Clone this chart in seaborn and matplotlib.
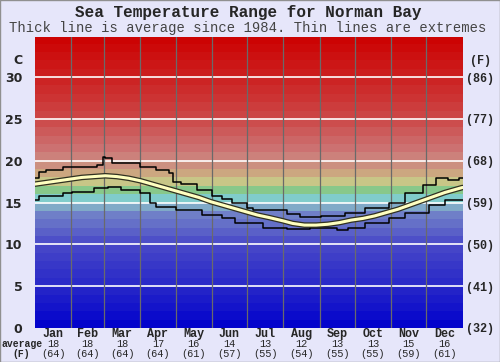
import matplotlib
matplotlib.use("Agg")
import matplotlib.pyplot as plt
import matplotlib.patheffects as pe
from matplotlib.colors import LinearSegmentedColormap
import seaborn as sns

# month labels and the monthly average row printed under the chart
months = ["Jan", "Feb", "Mar", "Apr", "May", "Jun", "Jul", "Aug", "Sep", "Oct", "Nov", "Dec"]
month_avg_c = [18, 18, 18, 17, 16, 14, 13, 12, 13, 13, 15, 16]
month_avg_f = [64, 64, 64, 64, 61, 57, 55, 54, 55, 55, 59, 61]
month_starts = [0, 31, 59, 90, 120, 151, 181, 212, 243, 273, 304, 334, 365]

# average since 1984 (day of year, deg C)
avg_days = [0, 10, 20, 30, 40, 50, 60, 70, 80, 90, 100, 110, 120, 130, 140, 150,
            160, 170, 180, 190, 200, 212, 220, 230, 240, 250, 260, 270, 280, 290,
            300, 310, 320, 330, 340, 350, 360, 365]
avg_temp = [17.2, 17.4, 17.6, 17.8, 18.0, 18.1, 18.2, 18.1, 17.9, 17.6, 17.2, 16.8,
            16.4, 16.0, 15.6, 15.1, 14.7, 14.3, 13.9, 13.5, 13.2, 12.8, 12.5, 12.3,
            12.3, 12.4, 12.6, 12.9, 13.1, 13.4, 13.8, 14.2, 14.7, 15.2, 15.7, 16.2,
            16.6, 16.8]

# extremes (step lines)
max_days = [0, 3, 9, 24, 38, 53, 58, 60, 66, 90, 103, 114, 118, 125, 138, 151, 160,
            168, 181, 186, 215, 226, 244, 265, 282, 302, 316, 331, 342, 353, 362, 365]
max_temp = [17.9, 18.6, 18.9, 19.2, 19.3, 19.5, 20.5, 20.3, 19.7, 19.3, 18.9, 18.5,
            17.5, 17.2, 16.5, 15.8, 15.4, 14.9, 14.3, 14.1, 13.6, 13.3, 13.4, 13.7,
            14.3, 14.9, 16.1, 17.1, 17.9, 17.7, 17.9, 17.9]
min_days = [0, 3, 24, 32, 50, 62, 73, 90, 98, 103, 120, 143, 160, 171, 184, 195,
            215, 235, 258, 267, 282, 302, 316, 336, 350, 365]
min_temp = [15.3, 15.8, 16.1, 16.3, 16.7, 16.9, 16.5, 16.1, 14.9, 14.5, 14.1, 13.5,
            13.1, 12.6, 12.5, 12.0, 11.8, 11.9, 11.7, 12.0, 12.6, 13.1, 13.7, 14.7,
            15.3, 15.3]

c_ticks = [0, 5, 10, 15, 20, 25, 30]
f_labels = ["(32)", "(41)", "(50)", "(59)", "(68)", "(77)", "(86)"]

sns.set_style("white")
plt.rcParams["font.family"] = ["DejaVu Sans"]
mono = "Liberation Mono"
bg = "#e6e6fa"

band_cmap = LinearSegmentedColormap.from_list("sea", [
    (0 / 35, "#0000cc"), (5 / 35, "#2828c8"), (10 / 35, "#4848c8"),
    (12 / 35, "#6068c8"), (13.5 / 35, "#7080c8"), (14.5 / 35, "#80a8c8"),
    (15.5 / 35, "#80cccc"), (16.5 / 35, "#88c888"), (17.5 / 35, "#c8c888"),
    (18.5 / 35, "#cca880"), (19.5 / 35, "#cc9080"), (21 / 35, "#cc7878"),
    (25 / 35, "#cc4848"), (30 / 35, "#cc2020"), (35 / 35, "#cc0000")])

fig = plt.figure(figsize=(5, 3.62), dpi=100, facecolor=bg)
ax = fig.add_axes([0.07, 0.094, 0.855, 0.804])

# coloured 1-degree bands
for t in range(35):
    ax.axhspan(t, t + 1, color=band_cmap((t + 0.5) / 35), lw=0, zorder=0)
for t in c_ticks[1:]:
    ax.axhline(t, color="white", lw=1.2, zorder=1)
for d in month_starts[1:-1]:
    ax.axvline(d, color="#6a6a6a", lw=0.9, zorder=1)

sns.lineplot(x=max_days, y=max_temp, drawstyle="steps-post", color="black", lw=1.1, ax=ax, zorder=3)
sns.lineplot(x=min_days, y=min_temp, drawstyle="steps-post", color="black", lw=1.1, ax=ax, zorder=3)
sns.lineplot(x=avg_days, y=avg_temp, color="#ffffc0", lw=2.2, ax=ax, zorder=4,
             path_effects=[pe.Stroke(linewidth=4.0, foreground="#303020"), pe.Normal()])

ax.set_xlim(0, 365)
ax.set_ylim(0, 34.8)
ax.set_xticks([])
ax.set_yticks(c_ticks)
ax.set_yticklabels([str(t) for t in c_ticks], fontweight="bold", fontsize=9)
ax.tick_params(axis="y", length=0, pad=9)
ax.set_xlabel("")
ax.set_ylabel("")
for s in ax.spines.values():
    s.set_visible(False)

ax2 = ax.twinx()
ax2.set_ylim(ax.get_ylim())
ax2.set_yticks(c_ticks)
ax2.set_yticklabels(f_labels, family=mono, fontweight="bold", fontsize=8.5)
ax2.tick_params(axis="y", length=0, pad=2.5)
for s in ax2.spines.values():
    s.set_visible(False)

# month names and averages under the chart
xt = ax.get_xaxis_transform()
for i, m in enumerate(months):
    mid = (month_starts[i] + month_starts[i + 1]) / 2
    ax.text(mid, -0.021, m, transform=xt, ha="center", va="center",
            family=mono, fontweight="bold", fontsize=8.5)
    ax.text(mid, -0.055, str(month_avg_c[i]), transform=xt, ha="center", va="center",
            family=mono, fontsize=7.4)
    ax.text(mid, -0.089, "(%d)" % month_avg_f[i], transform=xt, ha="center", va="center",
            family=mono, fontsize=7.4)

fig.text(0.004, 1 - 344 / 362, "average", ha="left", va="center",
         family=mono, fontweight="bold", fontsize=7)
fig.text(0.042, 1 - 354 / 362, "(F)", ha="center", va="center",
         family=mono, fontweight="bold", fontsize=7)
fig.text(0.036, 1 - 61 / 362, "C", ha="center", va="center",
         fontweight="bold", fontsize=9)
fig.text(0.962, 1 - 61 / 362, "(F)", ha="center", va="center",
         family=mono, fontweight="bold", fontsize=8.5)

fig.text(0.496, 1 - 13 / 362, "Sea Temperature Range for Norman Bay", ha="center", va="center",
         family=mono, fontweight="bold", fontsize=11.5)
fig.text(0.495, 1 - 28 / 362, "Thick line is average since 1984. Thin lines are extremes",
         ha="center", va="center", family=mono, fontsize=10, color="#444444")

fig.patches.append(plt.Rectangle((0, 0), 1, 1, transform=fig.transFigure, fill=False,
                                 edgecolor="#909090", lw=1.0))

fig.savefig("out.png", dpi=100, facecolor=bg)
